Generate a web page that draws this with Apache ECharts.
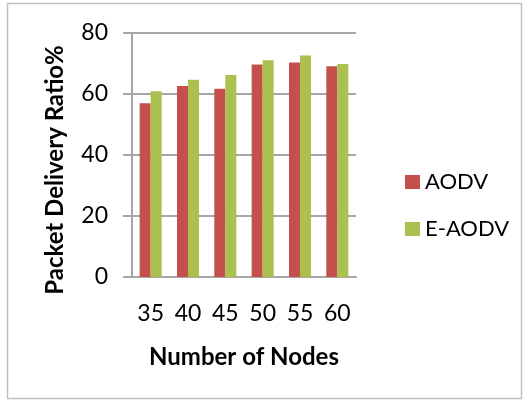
<!DOCTYPE html>
<html>
<head>
<meta charset="utf-8">
<script src="https://cdn.jsdelivr.net/npm/echarts@6/dist/echarts.min.js"></script>
<style>
  html, body { margin: 0; padding: 0; background: #fff; }
  #chart { width: 529px; height: 401px; }
</style>
</head>
<body>
<div id="chart"></div>
<script>
// Number of nodes in the network
const nodes = ['35', '40', '45', '50', '55', '60'];
// Packet delivery ratio (%) per protocol
const aodv = [57, 62.6, 61.7, 69.7, 70.3, 69.1];
const eAodv = [60.9, 64.7, 66.2, 71.1, 72.6, 69.8];

const FONT = 'Lato, "Open Sans", sans-serif';
const GRID_COLOR = '#a6a6a6';

const chart = echarts.init(document.getElementById('chart'), null, { renderer: 'canvas' });

chart.setOption({
  backgroundColor: '#ffffff',
  animation: false,
  graphic: [{
    type: 'rect',
    shape: { x: 7.5, y: 3.5, width: 514, height: 395 },
    style: { fill: 'none', stroke: '#c0c0c0', lineWidth: 1.5 },
    silent: true
  }],
  grid: { left: 132, right: 173, top: 33, bottom: 124 },
  legend: {
    orient: 'vertical',
    left: 400,
    top: 166,
    itemWidth: 15,
    itemHeight: 14,
    itemGap: 25,
    icon: 'rect',
    textStyle: { fontFamily: FONT, fontSize: 22, color: '#000' },
    data: ['AODV', 'E-AODV']
  },
  xAxis: {
    type: 'category',
    data: nodes,
    name: 'Number of Nodes',
    nameLocation: 'middle',
    nameGap: 68,
    nameTextStyle: { fontFamily: FONT, fontSize: 24, fontWeight: 'bold', color: '#000' },
    axisLine: { show: true, lineStyle: { color: GRID_COLOR, width: 2 } },
    axisTick: { show: false },
    axisLabel: { fontFamily: FONT, fontSize: 23, color: '#000', margin: 25 }
  },
  yAxis: {
    type: 'value',
    min: 0,
    max: 80,
    interval: 20,
    name: 'Packet Delivery Ratio%',
    nameLocation: 'middle',
    nameGap: 65,
    nameRotate: 90,
    nameTextStyle: { fontFamily: FONT, fontSize: 24, fontWeight: 'bold', color: '#000', padding: [0, 30, 0, 0] },
    axisLine: { show: true, lineStyle: { color: GRID_COLOR, width: 2 } },
    axisTick: { show: true, length: 9, lineStyle: { color: GRID_COLOR, width: 2 } },
    axisLabel: { fontFamily: FONT, fontSize: 23, color: '#000', margin: 24 },
    splitLine: { show: true, lineStyle: { color: GRID_COLOR, width: 2 } }
  },
  series: [
    {
      name: 'AODV',
      type: 'bar',
      data: aodv,
      barGap: '0%',
      barCategoryGap: '41%',
      itemStyle: { color: '#C4504C' }
    },
    {
      name: 'E-AODV',
      type: 'bar',
      data: eAodv,
      barGap: '0%',
      barCategoryGap: '41%',
      itemStyle: { color: '#AAC150' }
    }
  ]
});
</script>
</body>
</html>
